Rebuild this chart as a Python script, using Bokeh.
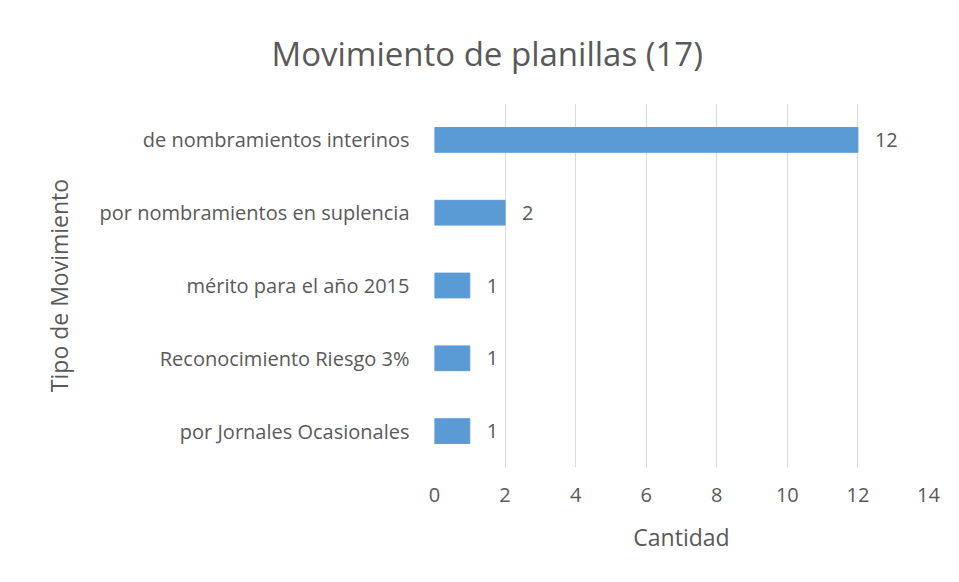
from bokeh.plotting import figure
from bokeh.models import ColumnDataSource, FactorRange, FixedTicker, Title
from bokeh.core.properties import value
from bokeh.embed import file_html
from bokeh.resources import INLINE

categories = [
    "de nombramientos interinos",
    "por nombramientos en suplencia",
    "mérito para el año 2015",
    "Reconocimiento Riesgo 3%",
    "por Jornales Ocasionales",
]
values = [12, 2, 1, 1, 1]
x_ticks = [0, 2, 4, 6, 8, 10, 12, 14]
title_text = "Movimiento de planillas (17)"

FONT = "Open Sans"
TXT = "#595959"

src = ColumnDataSource(dict(cat=categories, val=values, lab=[str(v) for v in values]))

p = figure(
    width=951, height=574,
    y_range=FactorRange(factors=list(reversed(categories))),
    x_range=(0, 14),
    output_backend="svg", toolbar_location=None,
    min_border_left=434, min_border_right=23, min_border_top=103, min_border_bottom=107,
)
p.hbar(y="cat", right="val", left=0, height=0.34, source=src,
       fill_color="#5B9BD5", line_color="#5B9BD5")
p.text(x="val", y="cat", text="lab", source=src, x_offset=17,
       text_baseline="middle", text_align="left",
       text_font=value(FONT), text_font_size="20px", text_color=TXT)

p.xaxis.ticker = FixedTicker(ticks=x_ticks)
p.xaxis.axis_line_color = None
p.xaxis.major_tick_line_color = None
p.xaxis.minor_tick_line_color = None
p.xaxis.major_label_text_font = FONT
p.xaxis.major_label_text_font_size = "20px"
p.xaxis.major_label_text_color = TXT
p.xaxis.major_label_standoff = 14
p.xaxis.axis_label = "Cantidad"
p.xaxis.axis_label_text_font = FONT
p.xaxis.axis_label_text_font_size = "23px"
p.xaxis.axis_label_text_font_style = "normal"
p.xaxis.axis_label_text_color = TXT
p.xaxis.axis_label_standoff = 16

p.yaxis.axis_line_color = None
p.yaxis.major_tick_line_color = None
p.yaxis.minor_tick_line_color = None
p.yaxis.major_label_text_font = FONT
p.yaxis.major_label_text_font_size = "20px"
p.yaxis.major_label_text_color = TXT
p.yaxis.major_label_standoff = 19
p.yaxis.axis_label = "Tipo de Movimiento"
p.yaxis.axis_label_text_font = FONT
p.yaxis.axis_label_text_font_size = "23px"
p.yaxis.axis_label_text_font_style = "normal"
p.yaxis.axis_label_text_color = TXT
p.yaxis.axis_label_standoff = 22

p.xgrid.grid_line_color = "#D9D9D9"
p.ygrid.grid_line_color = None
p.outline_line_color = None

p.title = Title(text=title_text, align="left", offset=-163,
                text_font=FONT, text_font_size="33px", text_font_style="normal",
                text_color=TXT, standoff=56)

open("out.html", "w").write(file_html(p, INLINE))
